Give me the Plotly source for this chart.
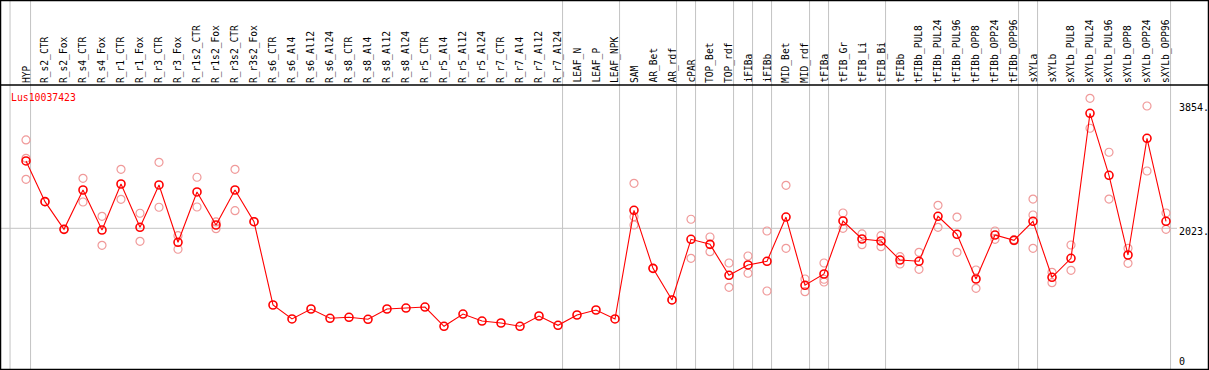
import plotly.graph_objects as go

title = "Lus10037423"

categories = [
    "HYP", "R_s2_CTR", "R_s2_Fox", "R_s4_CTR", "R_s4_Fox", "R_r1_CTR", "R_r1_Fox",
    "R_r3_CTR", "R_r3_Fox", "R_r1s2_CTR", "R_r1s2_Fox", "R_r3s2_CTR", "R_r3s2_Fox",
    "R_s6_CTR", "R_s6_Al4", "R_s6_Al12", "R_s6_Al24", "R_s8_CTR", "R_s8_Al4",
    "R_s8_Al12", "R_s8_Al24", "R_r5_CTR", "R_r5_Al4", "R_r5_Al12", "R_r5_Al24",
    "R_r7_CTR", "R_r7_Al4", "R_r7_Al12", "R_r7_Al24", "LEAF_N", "LEAF_P", "LEAF_NPK",
    "SAM", "AR_Bet", "AR_rdf", "cPAR", "TOP_Bet", "TOP_rdf", "iFIBa", "iFIBb",
    "MID_Bet", "MID_rdf", "tFIBa", "tFIB_Gr", "tFIB_Li", "tFIB_Bi", "tFIBb",
    "tFIBb_PUL8", "tFIBb_PUL24", "tFIBb_PUL96", "tFIBb_OPP8", "tFIBb_OPP24",
    "tFIBb_OPP96", "sXYLa", "sXYLb", "sXYLb_PUL8", "sXYLb_PUL24", "sXYLb_PUL96",
    "sXYLb_OPP8", "sXYLb_OPP24", "sXYLb_OPP96",
]

means = [
    3044, 2427, 2007, 2604, 1997, 2695, 2038, 2680, 1811, 2574, 2073, 2604, 2123,
    860, 648, 799, 658, 673, 643, 799, 814, 829, 537, 723, 617, 587, 537, 693, 552,
    708, 784, 648,
    2296, 1416, 936, 1856, 1780, 1310, 1467, 1523, 2194, 1159, 1330, 2134, 1861,
    1830, 1542, 1523, 2205, 1932, 1254, 1921, 1841, 2129, 1280, 1568, 3767, 2827,
    1618, 3388, 2129,
]

replicates = [
    [3363, 3085, 2766], [2427], [2007], [2781, 2422], [2205, 1765], [2918, 2463],
    [2251, 1826], [3024, 2342], [1911, 1705], [2797, 2346], [2119, 2017],
    [2918, 2290], [2123],
    [], [], [], [], [], [], [], [], [], [], [], [], [], [], [], [], [], [], [],
    [2705, 2199, 2073], [1416], [936], [2160, 1568], [1891, 1668], [1497, 1128],
    [1603, 1341], [1982, 1072], [2675, 1720], [1254, 1062], [1497, 1250, 1209],
    [2255, 2023], [1937, 1774], [1911, 1744], [1592, 1482], [1659, 1401],
    [2372, 2038], [2194, 1659], [1391, 1113], [1982, 1856], [1850, 1835],
    [2467, 2225, 1720], [1356, 1198], [1770, 1386], [3994, 3540], [3176, 2467],
    [1720, 1492], [3878, 2892], [2255, 2008],
]

# group separators: after these category indices (first one sits left of HYP)
separators = [-0.84, 0, 28, 31, 34, 35, 37, 38, 39, 41, 42, 45, 52, 53, 60]

axis_values = [3854, 2023, 0]
axis_texts = ["3854.", "2023.", "0"]
grid_value = 2023

W, H = 1209, 370
X0_PX, STEP_PX = 26, 19.0
Y0_PX, PX_PER_UNIT = 361.7, 0.06594

x_idx = list(range(len(categories)))
rep_x, rep_y = [], []
for i, reps in enumerate(replicates):
    for r in reps:
        rep_x.append(i)
        rep_y.append(r)

fig = go.Figure()
fig.add_trace(go.Scatter(
    x=rep_x, y=rep_y, mode="markers",
    marker=dict(symbol="circle-open", size=8, color="#f09a9a", line=dict(width=1.2)),
    hoverinfo="skip", showlegend=False,
))
fig.add_trace(go.Scatter(
    x=x_idx, y=means, mode="lines+markers",
    line=dict(color="#ff0000", width=1.1),
    marker=dict(symbol="circle-open", size=8, color="#ff0000", line=dict(width=1.6)),
    showlegend=False,
))

shapes = []
for s in separators:
    xs = s if s < 0 else s + 0.24
    shapes.append(dict(type="line", xref="x", yref="paper", x0=xs, x1=xs, y0=0, y1=1,
                       line=dict(color="#c4c4c4", width=1), layer="below"))
shapes.append(dict(type="line", xref="paper", yref="y", x0=0, x1=1177 / W,
                   y0=grid_value, y1=grid_value,
                   line=dict(color="#c4c4c4", width=1), layer="below"))
shapes.append(dict(type="line", xref="paper", yref="paper", x0=0, x1=1,
                   y0=1 - 85 / H, y1=1 - 85 / H, line=dict(color="black", width=1.5)))
shapes.append(dict(type="rect", xref="paper", yref="paper", x0=0, x1=1, y0=0, y1=1,
                   line=dict(color="black", width=2.5)))

annotations = []
for i, c in enumerate(categories):
    annotations.append(dict(
        x=i, xref="x", y=1 - 84 / H, yref="paper", text=c, textangle=-90,
        xanchor="center", yanchor="bottom", showarrow=False, borderpad=0,
        font=dict(family="DejaVu Sans Mono", size=9.6, color="black"),
    ))
annotations.append(dict(
    x=10 / W, xref="paper", y=1 - 97 / H, yref="paper", text=title,
    xanchor="left", yanchor="middle", showarrow=False, borderpad=0,
    font=dict(family="DejaVu Sans Mono", size=9.8, color="#ff0000"),
))
for v, t in zip(axis_values, axis_texts):
    annotations.append(dict(
        x=1178 / W, xref="paper", y=v, yref="y", text=t,
        xanchor="left", yanchor="middle", showarrow=False, borderpad=0,
        yshift=-3 if v == grid_value else 0,
        font=dict(family="DejaVu Sans Mono", size=10, color="black"),
    ))

fig.update_layout(
    width=W, height=H, margin=dict(l=0, r=0, t=0, b=0),
    paper_bgcolor="white", plot_bgcolor="white",
    xaxis=dict(range=[-X0_PX / STEP_PX, (W - X0_PX) / STEP_PX], visible=False),
    yaxis=dict(range=[(Y0_PX - H) / PX_PER_UNIT, Y0_PX / PX_PER_UNIT], visible=False),
    shapes=shapes, annotations=annotations,
)

fig.write_html(
    "out.html",
    config={"displayModeBar": False},
    post_script="document.body.style.margin='0px';document.body.style.overflow='hidden';",
)
